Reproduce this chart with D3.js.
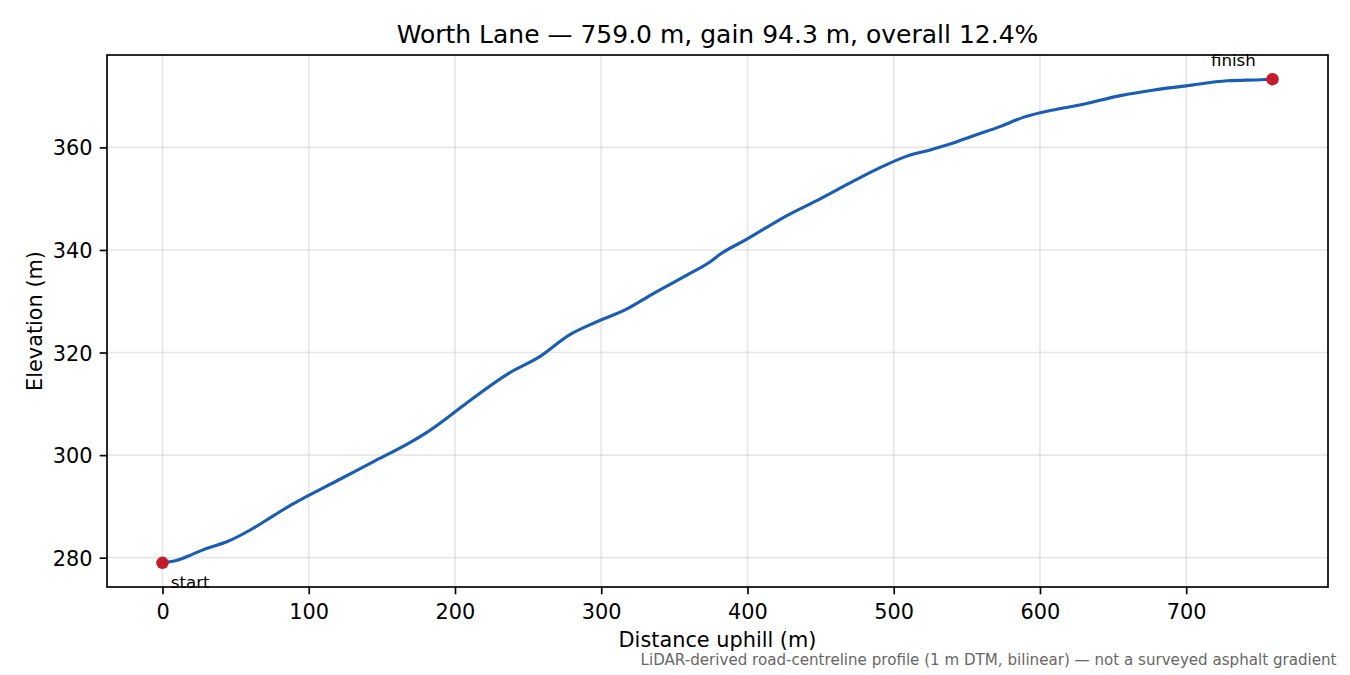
<!DOCTYPE html>
<html>
<head>
<meta charset="utf-8">
<script src="https://cdn.jsdelivr.net/npm/d3@7"></script>
<style>
  html, body { margin: 0; padding: 0; background: #ffffff; }
  svg { display: block; }
  text { font-family: "DejaVu Sans", sans-serif; }
</style>
</head>
<body>
<script>
// ---- data ----
const distances = [0, 10, 20, 30, 44, 60, 76, 88, 99, 120, 144, 167, 180, 199, 211, 237, 258, 278, 297, 317, 335, 358, 374, 382, 399, 427, 450, 473, 491, 509, 525, 538, 555, 573, 589, 609, 628, 655, 678, 700, 728, 751, 759];
const elevations = [279.0, 279.5, 280.6, 281.8, 283.1, 285.4, 288.2, 290.3, 292.0, 295.1, 298.7, 302.1, 304.3, 308.2, 310.8, 316.0, 319.2, 323.4, 326.0, 328.4, 331.4, 335.0, 337.6, 339.3, 342.0, 346.7, 350.0, 353.5, 356.1, 358.3, 359.5, 360.6, 362.3, 364.1, 365.9, 367.3, 368.3, 370.1, 371.2, 372.0, 373.0, 373.2, 373.3];
const xTicks = [0, 100, 200, 300, 400, 500, 600, 700];
const yTicks = [280, 300, 320, 340, 360];
const titleText = "Worth Lane \u2014 759.0 m, gain 94.3 m, overall 12.4%";
const xLabel = "Distance uphill (m)";
const yLabel = "Elevation (m)";
const footnote = "LiDAR-derived road-centreline profile (1 m DTM, bilinear) \u2014 not a surveyed asphalt gradient";
const startLabel = "start";
const finishLabel = "finish";

// ---- layout ----
const W = 1350, H = 675;
const L = 107, R = 1328, T = 55, B = 587;
const pt = 150 / 72;

const xMin = d3.min(distances), xMax = d3.max(distances);
const yMin = d3.min(elevations), yMax = d3.max(elevations);
const xPad = (xMax - xMin) * 0.05, yPad = (yMax - yMin) * 0.05;

const x = d3.scaleLinear().domain([xMin - xPad, xMax + xPad]).range([L, R]);
const y = d3.scaleLinear().domain([yMin - yPad, yMax + yPad]).range([B, T]);

const svg = d3.select("body").append("svg").attr("width", W).attr("height", H);
svg.append("rect").attr("width", W).attr("height", H).attr("fill", "#ffffff");

// grid
const grid = svg.append("g");
grid.selectAll("line.gx").data(xTicks).join("line")
  .attr("x1", d => x(d)).attr("x2", d => x(d)).attr("y1", T).attr("y2", B)
  .attr("stroke", "#b0b0b0").attr("stroke-opacity", 0.3).attr("stroke-width", 0.8 * pt);
grid.selectAll("line.gy").data(yTicks).join("line")
  .attr("y1", d => y(d)).attr("y2", d => y(d)).attr("x1", L).attr("x2", R)
  .attr("stroke", "#b0b0b0").attr("stroke-opacity", 0.3).attr("stroke-width", 0.8 * pt);

// line
const pts = distances.map((d, i) => [d, elevations[i]]);
svg.append("path").datum(pts)
  .attr("d", d3.line().x(d => x(d[0])).y(d => y(d[1])).curve(d3.curveMonotoneX))
  .attr("fill", "none").attr("stroke", "#1a5eb3").attr("stroke-width", 1.5 * pt)
  .attr("stroke-linejoin", "round").attr("stroke-linecap", "round");

// axes
const xAxis = d3.axisBottom(x).tickValues(xTicks).tickSize(3.5 * pt).tickPadding(3.5 * pt).tickFormat(d3.format("d"));
const yAxis = d3.axisLeft(y).tickValues(yTicks).tickSize(3.5 * pt).tickPadding(3.5 * pt).tickFormat(d3.format("d"));
const gx = svg.append("g").attr("transform", `translate(0,${B})`).call(xAxis);
const gy = svg.append("g").attr("transform", `translate(${L},0)`).call(yAxis);
[gx, gy].forEach(g => {
  g.select(".domain").remove();
  g.selectAll(".tick line").attr("stroke", "#000").attr("stroke-width", 0.8 * pt);
  g.selectAll(".tick text").attr("fill", "#000").style("font-size", (10 * pt) + "px")
    .style("font-family", "DejaVu Sans");
});
gx.selectAll(".tick text").attr("dy", null).attr("y", 618.5 - B).attr("dominant-baseline", "alphabetic");
gy.selectAll(".tick text").attr("dy", null).attr("y", 0.3645 * 10 * pt).attr("dominant-baseline", "alphabetic");

// spines
svg.append("rect").attr("x", L).attr("y", T).attr("width", R - L).attr("height", B - T)
  .attr("fill", "none").attr("stroke", "#000").attr("stroke-width", 0.8 * pt);

// markers
const first = pts[0], last = pts[pts.length - 1];
svg.selectAll("circle.end").data([first, last]).join("circle")
  .attr("cx", d => x(d[0])).attr("cy", d => y(d[1])).attr("r", 3 * pt)
  .attr("fill", "#c41c2c");

// annotations
svg.append("text").attr("x", x(first[0]) + 4 * pt).attr("y", y(first[1]) + 12 * pt)
  .style("font-size", (8 * pt) + "px").attr("fill", "#000").text(startLabel);
svg.append("text").attr("x", x(last[0]) - 8 * pt).attr("y", y(last[1]) - 13.3)
  .attr("text-anchor", "end")
  .style("font-size", (8 * pt) + "px").attr("fill", "#000").text(finishLabel);

// title & labels
svg.append("text").attr("x", (L + R) / 2).attr("y", T - 6 * pt).attr("text-anchor", "middle")
  .style("font-size", (12 * pt) + "px").attr("fill", "#000").text(titleText);
svg.append("text").attr("x", (L + R) / 2).attr("y", 646.5).attr("text-anchor", "middle")
  .style("font-size", (10 * pt) + "px").attr("fill", "#000").text(xLabel);
svg.append("text").attr("transform", `translate(41.7,${(T + B) / 2}) rotate(-90)`).attr("text-anchor", "middle")
  .style("font-size", (10 * pt) + "px").attr("fill", "#000").text(yLabel);

// footnote
svg.append("text").attr("x", W * 0.99).attr("y", 664.5).attr("text-anchor", "end")
  .style("font-size", "15.1px").attr("fill", "#666666").text(footnote);
</script>
</body>
</html>
